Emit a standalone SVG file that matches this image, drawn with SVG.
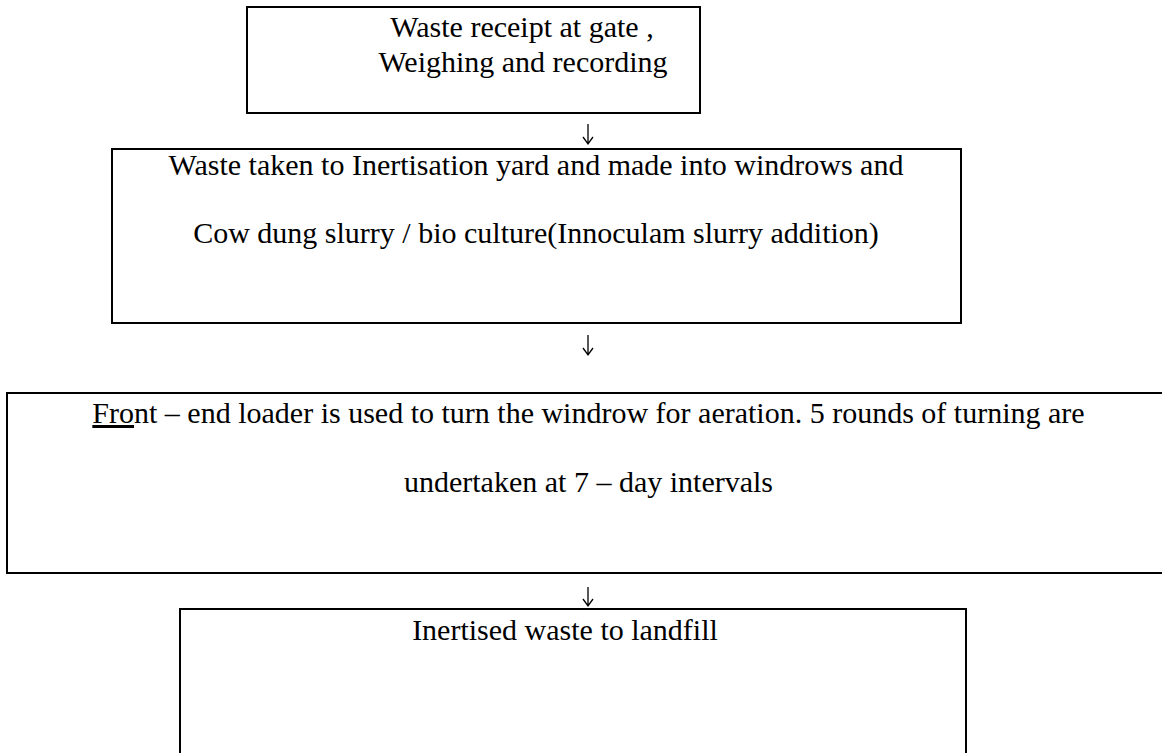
<svg xmlns="http://www.w3.org/2000/svg" width="1162" height="753" viewBox="0 0 1162 753">
<style>
.box{fill:#fff;stroke:#000;stroke-width:2}
.t{font-family:"Liberation Serif","Times New Roman",serif;font-size:30px;fill:#000;text-anchor:middle}
.arr{fill:none;stroke:#000;stroke-width:1.3}
</style>
<rect width="1162" height="753" fill="#fff"/>
<g id="node1">
<rect class="box" x="247" y="7" width="453" height="106"/>
<text class="t" x="522" y="37">Waste receipt at gate ,</text>
<text class="t" x="523" y="72">Weighing and recording</text>
</g>
<g id="node2">
<rect class="box" x="112" y="149" width="849" height="174"/>
<text class="t" x="536" y="175">Waste taken to Inertisation yard and made into windrows and</text>
<text class="t" x="536" y="243">Cow dung slurry / bio culture(Innoculam slurry addition)</text>
</g>
<g id="node3">
<rect class="box" x="7" y="393" width="1163" height="180"/>
<text class="t" x="588.5" y="423"><tspan text-decoration="underline">Fro</tspan>nt – end loader is used to turn the windrow for aeration. 5 rounds of turning are</text>
<text class="t" x="588.5" y="492">undertaken at 7 – day intervals</text>
</g>
<g id="node4">
<rect class="box" x="180" y="609" width="786" height="160"/>
<text class="t" x="565" y="640">Inertised waste to landfill</text>
</g>
<g id="connectors">
<path class="arr" d="M588,124 V144 M583,137 L588,144 L593,137"/>
<path class="arr" d="M588,335 V355 M583,348 L588,355 L593,348"/>
<path class="arr" d="M588,587 V606 M583,599 L588,606 L593,599"/>
</g>
</svg>
